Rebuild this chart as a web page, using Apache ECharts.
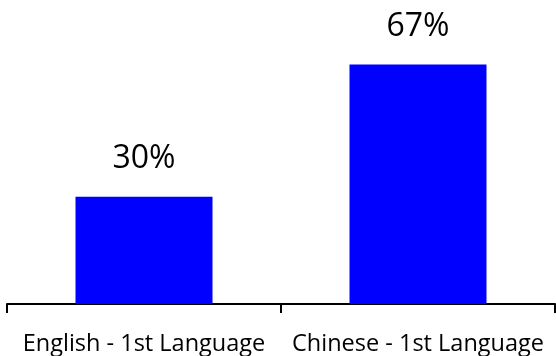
<!DOCTYPE html>
<html>
<head>
<meta charset="utf-8">
<script src="https://cdn.jsdelivr.net/npm/echarts@6/dist/echarts.min.js"></script>
<style>
  html, body { margin: 0; padding: 0; background: #fff; }
  #chart { width: 556px; height: 356px; }
</style>
</head>
<body>
<div id="chart"></div>
<script>
// Share of respondents by first language
const categories = ['English - 1st Language', 'Chinese - 1st Language'];
const shares = [30, 67];

const chart = echarts.init(document.getElementById('chart'), null, { renderer: 'canvas' });
chart.setOption({
  animation: false,
  backgroundColor: '#ffffff',
  textStyle: { fontFamily: 'Open Sans' },
  grid: { left: 7, right: 1, top: 18, bottom: 52, containLabel: false },
  xAxis: {
    type: 'category',
    data: categories,
    boundaryGap: true,
    axisLine: { show: true, lineStyle: { color: '#000', width: 2 } },
    axisTick: { show: true, interval: 0, length: 9, alignWithLabel: false, lineStyle: { color: '#000', width: 2 } },
    axisLabel: { color: '#000', fontSize: 23.5, fontFamily: 'Open Sans', margin: 28, interval: 0, hideOverlap: false }
  },
  yAxis: {
    type: 'value',
    min: 0,
    max: 80,
    show: false,
    splitLine: { show: false }
  },
  series: [{
    type: 'bar',
    data: shares,
    barWidth: '50%',
    itemStyle: { color: '#0000ff' },
    label: {
      show: true,
      position: 'top',
      distance: 22,
      color: '#000',
      fontSize: 32,
      fontFamily: 'Open Sans',
      formatter: p => p.value + '%'
    }
  }]
});
</script>
</body>
</html>
